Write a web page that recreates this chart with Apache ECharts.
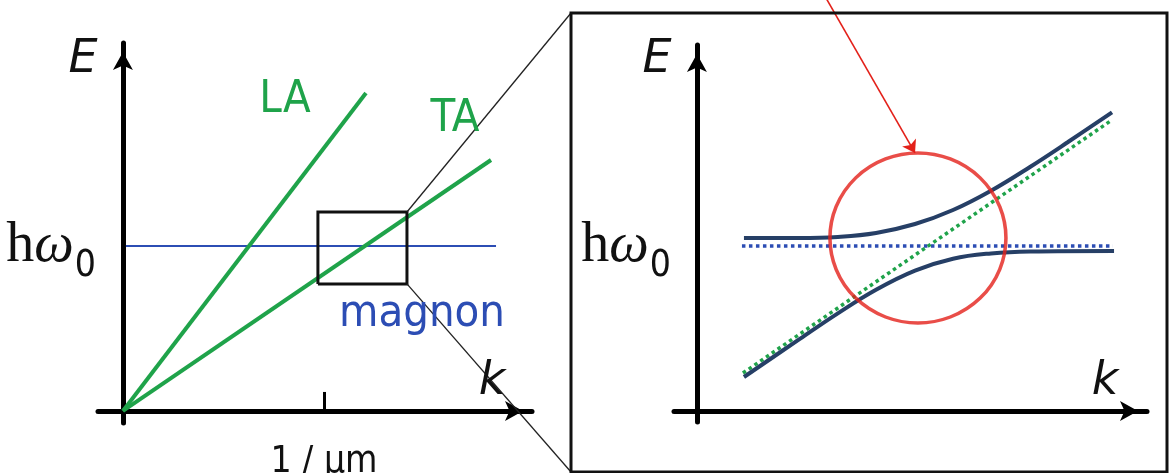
<!DOCTYPE html>
<html>
<head>
<meta charset="utf-8">
<script src="https://cdn.jsdelivr.net/npm/echarts@6/dist/echarts.min.js"></script>
<style>
  html, body { margin: 0; padding: 0; background: #ffffff; }
  #chart { width: 1170px; height: 473px; }
</style>
</head>
<body>
<div id="chart"></div>
<script>
// ---- Left panel: bare dispersions (k in 1/µm, E in units of ħω0) ----
const laBranch     = [[0, 0], [1.209, 1.927]];
const taBranch     = [[0, 0], [1.831, 1.521]];
const magnonBranch = [[0.015, 1], [1.856, 1]];
const zoomK = [0.970, 1.413];          // window enlarged on the right
const zoomE = [0.770, 1.206];
const kTicks = [1];
const kTickLabels = ['1 / μm'];
const eTicks = [1];

// ---- Right panel: the crossing region, bare and coupled modes ----
const taBare     = [[0.229, 0.230], [2.065, 1.764]];
const magnonBare = [[0.224, 1], [2.070, 1]];
const upperBranch = [[0.234, 1.048], [0.512, 1.048], [0.701, 1.055], [0.891, 1.079],
                     [1.085, 1.133], [1.274, 1.218], [1.463, 1.335], [1.657, 1.479],
                     [1.846, 1.630], [2.065, 1.810]];
const lowerBranch = [[0.234, 0.206], [0.512, 0.437], [0.701, 0.592], [0.891, 0.735],
                     [1.085, 0.851], [1.274, 0.923], [1.463, 0.955], [1.657, 0.967],
                     [2.075, 0.970]];
const gapCentre = [[1.0995, 1.0485]];
const pointer = [[0.642, 2.503], [1.085, 1.564]];

const GREEN = '#1fa34a';
const BLUE = '#2c4db4';
const NAVY = '#263f66';
const RED = '#e3211a';

const chart = echarts.init(document.getElementById('chart'), null, { renderer: 'canvas' });

function valueAxis(extra) {
  return Object.assign({
    type: 'value',
    splitLine: { show: false },
    axisTick: { show: false },
    axisLabel: { show: false },
    axisLine: {
      show: true, onZero: true,
      symbol: ['none', 'arrow'], symbolSize: [15, 18], symbolOffset: [0, -9],
      lineStyle: { color: '#000', width: 5 }
    }
  }, extra);
}

const hwRich = {
  h: { fontFamily: 'Liberation Serif', fontSize: 56, color: '#111', lineHeight: 56 },
  w: { fontFamily: 'Liberation Serif', fontStyle: 'italic', fontSize: 56, color: '#111', lineHeight: 56 },
  s: { fontFamily: "'Liberation Sans Narrow', 'DejaVu Sans Condensed'", fontSize: 37, color: '#111',
       lineHeight: 14, padding: [40, 0, 0, 1] }
};
const hwLabel = () => '{h|h}{w|ω}{s|0}';

const option = {
  animation: false,
  backgroundColor: '#ffffff',
  grid: [
    { left: 98, top: 43, width: 434, height: 380, containLabel: false, outerBoundsMode: 'none' },
    { left: 674, top: 45, width: 473, height: 377, containLabel: false, outerBoundsMode: 'none' }
  ],
  xAxis: [
    valueAxis({
      gridIndex: 0, min: -0.124, max: 2.035,
      axisTick: { show: true, inside: true, length: 19, customValues: kTicks,
                  lineStyle: { color: '#000', width: 3 } },
      axisLabel: { show: true, customValues: kTicks, margin: 21,
                   formatter: () => kTickLabels[0],
                   fontFamily: 'DejaVu Sans Condensed', fontSize: 37, color: '#111' }
    }),
    valueAxis({ gridIndex: 1, min: -0.114, max: 2.239 })
  ],
  yAxis: [
    valueAxis({
      gridIndex: 0, min: -0.073, max: 2.230,
      axisLabel: { show: true, customValues: eTicks, margin: 2, formatter: hwLabel, rich: hwRich }
    }),
    valueAxis({
      gridIndex: 1, min: -0.0667, max: 2.218,
      axisLabel: { show: true, customValues: eTicks, margin: 3, formatter: hwLabel, rich: hwRich }
    })
  ],
  series: [
    // left panel
    { type: 'line', xAxisIndex: 0, yAxisIndex: 0, data: magnonBranch, showSymbol: false,
      lineStyle: { color: BLUE, width: 2 } },
    { type: 'line', xAxisIndex: 0, yAxisIndex: 0, data: laBranch, showSymbol: false,
      lineStyle: { color: GREEN, width: 4 } },
    { type: 'line', xAxisIndex: 0, yAxisIndex: 0, data: taBranch, showSymbol: false,
      lineStyle: { color: GREEN, width: 4 } },
    { type: 'line', xAxisIndex: 0, yAxisIndex: 0, showSymbol: false,
      data: [[zoomK[0], zoomE[0]], [zoomK[1], zoomE[0]], [zoomK[1], zoomE[1]],
             [zoomK[0], zoomE[1]], [zoomK[0], zoomE[0]]],
      lineStyle: { color: '#111', width: 3, join: 'miter' } },
    // right panel: bare modes (dotted)
    { type: 'line', xAxisIndex: 1, yAxisIndex: 1, data: magnonBare, showSymbol: false,
      lineStyle: { color: BLUE, width: 3.5, type: 'dotted' } },
    { type: 'line', xAxisIndex: 1, yAxisIndex: 1, data: taBare, showSymbol: false,
      lineStyle: { color: GREEN, width: 3.5, type: 'dotted' } },
    // coupled magnon-phonon branches
    { type: 'line', xAxisIndex: 1, yAxisIndex: 1, data: upperBranch, showSymbol: false,
      smooth: 0.4, lineStyle: { color: NAVY, width: 4 } },
    { type: 'line', xAxisIndex: 1, yAxisIndex: 1, data: lowerBranch, showSymbol: false,
      smooth: 0.4, lineStyle: { color: NAVY, width: 4 } },
    // gap marker
    { type: 'scatter', xAxisIndex: 1, yAxisIndex: 1, data: gapCentre, symbol: 'circle',
      symbolSize: [176, 170], z: 5,
      itemStyle: { color: 'rgba(0,0,0,0)', borderColor: RED, borderWidth: 3.5 } },
    { type: 'lines', coordinateSystem: 'cartesian2d', xAxisIndex: 1, yAxisIndex: 1, clip: false,
      z: 5, symbol: ['none', 'arrow'], symbolSize: 12,
      data: [{ coords: pointer }],
      lineStyle: { color: RED, width: 1.6, opacity: 1 } }
  ],
  graphic: [
    { type: 'rect', shape: { x: 571, y: 13, width: 596, height: 459 },
      style: { fill: 'none', stroke: '#111', lineWidth: 3 }, z: 10 },
    { type: 'text', x: 83, y: 60, z: 10,
      style: { text: 'E', font: 'italic 46px "DejaVu Sans"', fill: '#111', align: 'center', verticalAlign: 'middle' } },
    { type: 'text', x: 657, y: 60, z: 10,
      style: { text: 'E', font: 'italic 46px "DejaVu Sans"', fill: '#111', align: 'center', verticalAlign: 'middle' } },
    { type: 'text', x: 492, y: 382, z: 10,
      style: { text: 'k', font: 'italic 46px "DejaVu Sans"', fill: '#111', align: 'center', verticalAlign: 'middle' } },
    { type: 'text', x: 1105, y: 382, z: 10,
      style: { text: 'k', font: 'italic 46px "DejaVu Sans"', fill: '#111', align: 'center', verticalAlign: 'middle' } },
    { type: 'text', x: 285, y: 100, z: 10,
      style: { text: 'LA', font: '45px "DejaVu Sans Condensed"', fill: GREEN, align: 'center', verticalAlign: 'middle' } },
    { type: 'text', x: 455, y: 119, z: 10,
      style: { text: 'TA', font: '45px "DejaVu Sans Condensed"', fill: GREEN, align: 'center', verticalAlign: 'middle' } },
    { type: 'text', x: 422, y: 314, z: 10,
      style: { text: 'magnon', font: '45px "DejaVu Sans Condensed"', fill: BLUE, align: 'center', verticalAlign: 'middle' } }
  ]
};

chart.setOption(option);

// Connectors from the zoom window's right corners to the enlarged frame
const topCorner = chart.convertToPixel({ gridIndex: 0 }, [zoomK[1], zoomE[1]]);
const bottomCorner = chart.convertToPixel({ gridIndex: 0 }, [zoomK[1], zoomE[0]]);
chart.setOption({
  graphic: option.graphic.concat([
    { type: 'line', z: 9, shape: { x1: topCorner[0], y1: topCorner[1], x2: 571, y2: 13 },
      style: { stroke: '#222', lineWidth: 1.3 } },
    { type: 'line', z: 9, shape: { x1: bottomCorner[0], y1: bottomCorner[1], x2: 571, y2: 472 },
      style: { stroke: '#222', lineWidth: 1.3 } }
  ])
});
</script>
</body>
</html>
